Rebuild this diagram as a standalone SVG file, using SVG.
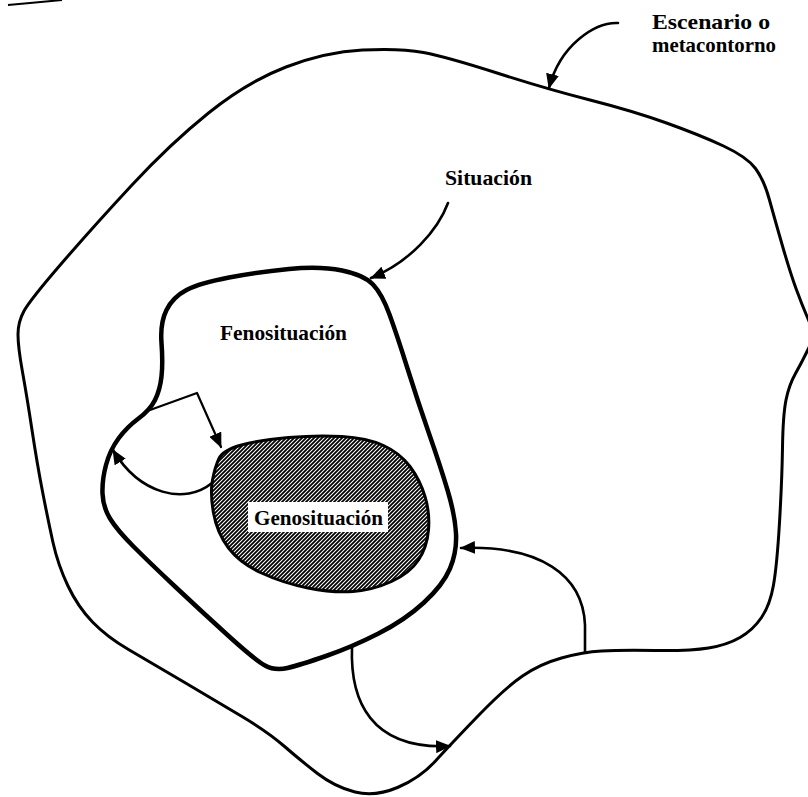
<svg xmlns="http://www.w3.org/2000/svg" width="808" height="797" viewBox="0 0 808 797">
<style>
.lbl{font-family:"Liberation Serif","Times New Roman",serif;font-size:21px;font-weight:bold;fill:#000}
.edge{fill:none;stroke:#000;stroke-width:2.6;stroke-linecap:round;stroke-linejoin:round}
</style>
<defs>
<pattern id="hatch" patternUnits="userSpaceOnUse" width="4" height="4">
<rect width="4" height="4" fill="#fff"/>
<path d="M-1,1 l2,-2 M0,4 l4,-4 M3,5 l2,-2" stroke="#000" stroke-width="1.8"/>
</pattern>
<marker id="ah" markerUnits="userSpaceOnUse" markerWidth="15" markerHeight="13" refX="14" refY="6.5" orient="auto">
<path d="M0,0 L15,6.5 L0,13 z" fill="#000"/>
</marker>
</defs>
<rect width="808" height="797" fill="#fff"/>
<path d="M8,5 L30,3 L62,0" fill="none" stroke="#000" stroke-width="2"/>

<g id="escenario">
<path d="M 362.5,50 Q 400,48 423.5,52.5 Q 447,57 497,73 Q 547,89 590,100 Q 633,111 666.5,123 Q 700,135 723.5,146 Q 747,157 755.5,168.5 Q 764,180 769.5,200 Q 775,220 782.5,246 Q 790,272 796,288.5 Q 802,305 808.5,320 Q 815,335 808.5,348.5 Q 802,362 795.5,373.5 Q 789,385 786,400 Q 783,415 782.5,447.5 Q 782,480 779.5,522.5 Q 777,565 773.5,585 Q 770,605 761.5,617.5 Q 753,630 740,637.5 Q 727,645 708.5,648 Q 690,651 655,650.5 Q 620,650 601.5,651 Q 583,652 561.5,658 Q 540,664 522.5,676 Q 505,688 477.5,716.5 Q 450,745 435,761.5 Q 420,778 397.5,787.5 Q 375,797 355,792 Q 335,787 317.5,773.5 Q 300,760 284,746 Q 268,732 242,716.5 Q 216,701 183,681.5 Q 150,662 128.5,649.5 Q 107,637 92.5,622 Q 78,607 68,586 Q 58,565 53,542.5 Q 48,520 42.5,491.5 Q 37,463 32,430 Q 27,397 22.5,372 Q 18,347 18,334.5 Q 18,322 24,311 Q 30,300 61.5,263.5 Q 93,227 131.5,185.5 Q 170,144 208.5,113 Q 247,82 286,67 Q 325,52 362.5,50 Z" fill="none" stroke="#000" stroke-width="3"/>
<text class="lbl" x="652" y="29" textLength="118" lengthAdjust="spacingAndGlyphs">Escenario o</text>
<text class="lbl" x="652" y="52" textLength="124" lengthAdjust="spacingAndGlyphs">metacontorno</text>
</g>

<g id="situacion">
<path d="M 229,277.5 Q 258,272 289,269 Q 320,266 342,270.5 Q 364,275 373,284.5 Q 382,294 389.5,314.5 Q 397,335 407.5,368.5 Q 418,402 429,433.5 Q 440,465 447.5,490 Q 455,515 456,533.5 Q 457,552 450,568.5 Q 443,585 424,602.5 Q 405,620 378.5,633.5 Q 352,647 326,656 Q 300,665 287.5,668 Q 275,671 265,665.5 Q 255,660 227.5,635 Q 200,610 175,586.5 Q 150,563 133.5,546.5 Q 117,530 110,518.5 Q 103,507 102.5,493.5 Q 102,480 106,465 Q 110,450 118.5,438.5 Q 127,427 138.5,418.5 Q 150,410 155,400 Q 160,390 161.5,376.5 Q 163,363 161.5,343 Q 160,323 166.5,310 Q 173,297 186.5,290 Q 200,283 229,277.5 Z" fill="none" stroke="#000" stroke-width="4.5"/>
<text class="lbl" x="445" y="185" textLength="87" lengthAdjust="spacingAndGlyphs">Situación</text>
<text class="lbl" x="220" y="340" textLength="127" lengthAdjust="spacingAndGlyphs">Fenosituación</text>
</g>

<g id="genosituacion">
<path d="M 288.5,437.5 Q 317,435 342,436.5 Q 367,438 383.5,445.5 Q 400,453 410,466.5 Q 420,480 425,496.5 Q 430,513 428.5,530 Q 427,547 418.5,560 Q 410,573 391.5,581.5 Q 373,590 353,591.5 Q 333,593 308,588 Q 283,583 261.5,573 Q 240,563 228.5,548 Q 217,533 213.5,513 Q 210,493 212.5,480 Q 215,467 219,458.5 Q 223,450 241.5,445 Q 260,440 288.5,437.5 Z" fill="url(#hatch)" stroke="#000" stroke-width="3"/>
<rect x="248" y="502" width="140" height="30" fill="#fff"/>
<text class="lbl" x="254" y="525" textLength="129" lengthAdjust="spacingAndGlyphs">Genosituación</text>
</g>

<g id="connectors">
<path class="edge" d="M 618,23 C 595,22 560,45 549,88" marker-end="url(#ah)"/>
<path class="edge" d="M 448,203 C 438,230 410,262 371,278" marker-end="url(#ah)"/>
<path class="edge" d="M 150,410 L 197,393 L 221,447" marker-end="url(#ah)" style="stroke-width:2.2"/>
<path class="edge" d="M 212,483 C 185,505 140,495 113,450" marker-end="url(#ah)"/>
<path class="edge" d="M 585,652 L 585,625 C 583,575 540,545 461,548" marker-end="url(#ah)"/>
<path class="edge" d="M 352,647 C 350,700 370,750 450,746" marker-end="url(#ah)"/>
</g>
</svg>
